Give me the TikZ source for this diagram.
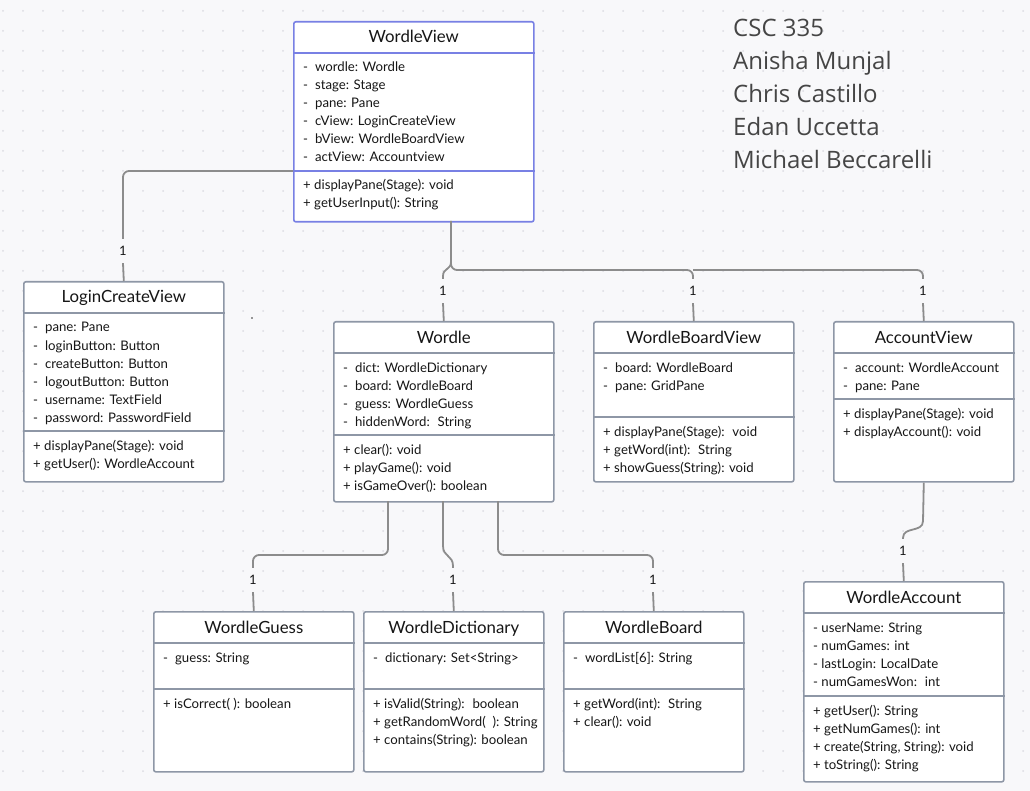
\documentclass[tikz,border=0pt]{standalone}
\usepackage{fontspec}
\setmainfont{Lato}
\newfontfamily\namefont{Open Sans}
\usetikzlibrary{calc}
\definecolor{bg}{HTML}{F8F8FA}
\definecolor{dotc}{HTML}{DCDCE2}
\definecolor{boxc}{HTML}{8E97A6}
\definecolor{selc}{HTML}{7880E4}
\definecolor{conc}{HTML}{8C8C8C}
\definecolor{txtc}{HTML}{161616}
\definecolor{namec}{HTML}{454545}
\tikzset{
  umlbox/.style={draw=boxc, line width=1.6pt, fill=white, rounded corners=2pt, inner sep=0pt},
  selbox/.style={umlbox, draw=selc},
  divl/.style={draw=boxc, line width=1.6pt},
  seldivl/.style={draw=selc, line width=1.6pt},
  ttl/.style={inner sep=0pt, text=txtc, font=\fontsize{16.8}{18}\selectfont},
  txt/.style={inner sep=0pt, text=txtc, font=\fontsize{13.2}{15}\selectfont},
  conn/.style={draw=conc, line width=1.8pt, rounded corners=6pt},
  mult/.style={inner sep=0pt, minimum height=24pt, text=txtc, font=\fontsize{13}{15}\selectfont},
  namet/.style={inner sep=0pt, anchor=base west, text=namec, font=\namefont\fontsize{24}{28}\selectfont}
}
\newcommand{\md}{-\hspace{7pt}}
\newcommand{\xsp}{\hspace{3.3pt}}
\newcommand{\umltitle}[2]{\node[ttl, anchor=base] (#1t) at ($(#1.north)+(0,22)$) {#2};}
\newcommand{\umldiv}[3][divl]{\draw[#1] ($(#2.north west)+(0,#3)$) -- ($(#2.north east)+(0,#3)$);}
\newcommand{\umllines}[4]{\foreach \t [count=\i] in {#4} {\node[txt, anchor=base west] (#1#2\i) at ($(#1.north west)+(10,#3+19+18*\i-18)$) {\t};}}
\begin{document}
\begin{tikzpicture}[x=1pt,y=-1pt]
\fill[bg] (0,0) rectangle (1030,791);
\useasboundingbox (0,0) rectangle (1030,791);
\foreach \gx in {0,...,51} {\foreach \gy in {0,...,38} {\fill[dotc] (3+20*\gx,11+20*\gy) circle (1pt);}}
\fill[black!80] (252,318) circle (0.8pt);

% names
\node[namet] (n1) at (733,37) {CSC 335};
\node[namet] (n2) at (733,70) {Anisha Munjal};
\node[namet] (n3) at (733,103) {Chris Castillo};
\node[namet] (n4) at (733,136) {Edan Uccetta};
\node[namet] (n5) at (733,169) {Michael Beccarelli};

% WordleView
\node[selbox, minimum width=240pt, minimum height=200pt, anchor=north west] (wv) at (293,21) {};
\umltitle{wv}{WordleView}
\umldiv[seldivl]{wv}{32}
\umldiv[seldivl]{wv}{150}
\umllines{wv}{a}{32}{{\md wordle: Wordle},{\md stage: Stage},{\md pane: Pane},{\md cView: LoginCreateView},{\md bView: WordleBoardView},{\md actView: Accountview}}
\umllines{wv}{m}{150}{{+ displayPane(Stage): void},{+ getUserInput(): String}}

% LoginCreateView
\node[umlbox, minimum width=200pt, minimum height=200pt, anchor=north west] (lcv) at (23,281) {};
\umltitle{lcv}{LoginCreateView}
\umldiv{lcv}{32}
\umldiv{lcv}{150}
\umllines{lcv}{a}{32}{{\md pane: Pane},{\md loginButton: Button},{\md createButton: Button},{\md logoutButton: Button},{\md username: TextField},{\md password: PasswordField}}
\umllines{lcv}{m}{150}{{+ displayPane(Stage): void},{+ getUser(): WordleAccount}}

% Wordle
\node[umlbox, minimum width=220pt, minimum height=180pt, anchor=north west] (w) at (333,321) {};
\umltitle{w}{Wordle}
\umldiv{w}{32}
\umldiv{w}{114}
\umllines{w}{a}{32}{{\md dict: WordleDictionary},{\md board: WordleBoard},{\md guess: WordleGuess},{\md hiddenWord:\xsp{} String}}
\umllines{w}{m}{114}{{+ clear(): void},{+ playGame(): void},{+ isGameOver(): boolean}}

% WordleBoardView
\node[umlbox, minimum width=200pt, minimum height=160pt, anchor=north west] (wbv) at (593,321) {};
\umltitle{wbv}{WordleBoardView}
\umldiv{wbv}{32}
\umldiv{wbv}{96}
\umllines{wbv}{a}{32}{{\md board: WordleBoard},{\md pane: GridPane}}
\umllines{wbv}{m}{96}{{+ displayPane(Stage):\xsp{} void},{+ getWord(int):\xsp{} String},{+ showGuess(String): void}}

% AccountView
\node[umlbox, minimum width=180pt, minimum height=160pt, anchor=north west] (av) at (833,321) {};
\umltitle{av}{AccountView}
\umldiv{av}{32}
\umldiv{av}{78}
\umllines{av}{a}{32}{{\md account: WordleAccount},{\md pane: Pane}}
\umllines{av}{m}{78}{{+ displayPane(Stage): void},{+ displayAccount(): void}}

% WordleGuess
\node[umlbox, minimum width=200pt, minimum height=160pt, anchor=north west] (wg) at (153,611) {};
\umltitle{wg}{WordleGuess}
\umldiv{wg}{32}
\umldiv{wg}{78}
\umllines{wg}{a}{32}{{\md guess: String}}
\umllines{wg}{m}{78}{{+ isCorrect(\ ): boolean}}

% WordleDictionary
\node[umlbox, minimum width=180pt, minimum height=160pt, anchor=north west] (wd) at (363,611) {};
\umltitle{wd}{WordleDictionary}
\umldiv{wd}{32}
\umldiv{wd}{78}
\umllines{wd}{a}{32}{{\md dictionary: Set<String>}}
\umllines{wd}{m}{78}{{+ isValid(String):\xsp{} boolean},{+ getRandomWord(\ \ ): String},{+ contains(String): boolean}}

% WordleBoard
\node[umlbox, minimum width=180pt, minimum height=160pt, anchor=north west] (wb) at (563,611) {};
\umltitle{wb}{WordleBoard}
\umldiv{wb}{32}
\umldiv{wb}{78}
\umllines{wb}{a}{32}{{\md wordList[6]: String}}
\umllines{wb}{m}{78}{{+ getWord(int):\xsp{} String},{+ clear(): void}}

% WordleAccount
\node[umlbox, minimum width=200pt, minimum height=200pt, anchor=north west] (wa) at (803,581) {};
\umltitle{wa}{WordleAccount}
\umldiv{wa}{32}
\umldiv{wa}{115}
\umllines{wa}{a}{32}{{- userName: String},{- numGames: int},{- lastLogin: LocalDate},{- numGamesWon:\xsp{} int}}
\umllines{wa}{m}{115}{{+ getUser(): String},{+ getNumGames(): int},{+ create(String, String): void},{+ toString(): String}}

% multiplicity labels
\node[mult] (m1) at (123,251) {1};
\node[mult] (m2) at (443,291) {1};
\node[mult] (m3) at (693,291) {1};
\node[mult] (m4) at (923,291) {1};
\node[mult] (m5) at (253,580) {1};
\node[mult] (m6) at (453,580) {1};
\node[mult] (m7) at (653,580) {1};
\node[mult] (m8) at (903,551) {1};

% connectors
\coordinate (wvl) at ($(wv.north west)+(0,150)$);
\coordinate (wvb) at (451,221);
\coordinate (wj2) at (693,270);
\draw[conn] (wvl) -| (m1.north);
\draw[conn] (m1.south) -- (lcv.north);

\draw[conn, rounded corners=0pt] (wvb) -- (451,262) .. controls (451,270) and (443,268) .. (443,276) -- (m2.north);
\draw[conn] (451,255) |- (wj2) -- (m3.north);
\draw[conn] (wj2) -| (m4.north);
\draw[conn] (m2.south) -- (w.north);
\draw[conn] (m3.south) -- (wbv.north);
\draw[conn] (m4.south) -- (av.north);

\coordinate (wb1) at (388,501);
\coordinate (wb2) at (443,501);
\coordinate (wb3) at (498,501);
\draw[conn] (wb1) |- (320,555) -| (m5.north);
\draw[conn, rounded corners=0pt] (wb2) -- (443,546) .. controls (443,557) and (453,555) .. (453,566) -- (m6.north);
\draw[conn] (wb3) |- (580,555) -| (m7.north);
\draw[conn] (m5.south) -- (wg.north);
\draw[conn] (m6.south) -- (wd.north);
\draw[conn] (m7.south) -- (wb.north);

\draw[conn, rounded corners=0pt] (av.south) -- (923,521) .. controls (923,533) and (903,526) .. (903,538) -- (m8.north);
\draw[conn] (m8.south) -- (wa.north);
\end{tikzpicture}
\end{document}
